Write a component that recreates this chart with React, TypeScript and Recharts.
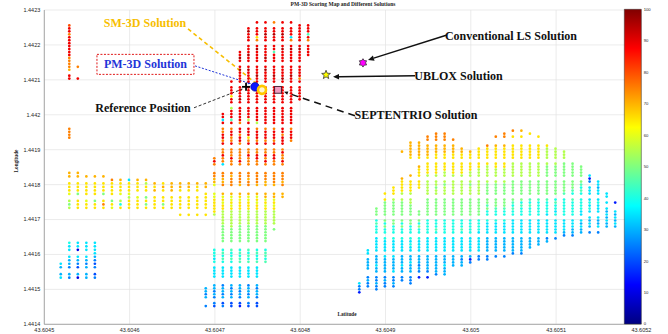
import React from "react";
import {
  ScatterChart,
  Scatter,
  XAxis,
  YAxis,
  CartesianGrid,
  ReferenceLine,
  ReferenceDot,
  BarChart,
  Bar,
} from "recharts";

const LAT_TICKS = [43.6045, 43.6046, 43.6047, 43.6048, 43.6049, 43.605, 43.6051, 43.6052];
const LON_TICKS = [1.4414, 1.4415, 1.4416, 1.4417, 1.4418, 1.4419, 1.442, 1.4421, 1.4422, 1.4423];
const SCORE_TICKS = [0, 10, 20, 30, 40, 50, 60, 70, 80, 90, 100];

// grid columns: lat = LAT0 + k * LAT_STEP
const LAT0 = 43.6045193;
const LAT_STEP = 0.00001;

// score of each cell code, blank = no candidate
const CODE_SCORE: Record<string, number> = {
  "0": 5, "1": 15, "2": 25, "3": 35, "4": 45, "5": 55, "6": 65, "7": 75, "8": 89, "9": 95,
  A: 0, B: 10, C: 20, D: 30, E: 40, F: 50, G: 60, H: 70, I: 80, J: 90,
};

// each column: [k, first row, cells]
const CENTRAL_LON0 = 1.4422643;
const CENTRAL_STEP = 0.00000846;
const CENTRAL_COLS: [number, number, string][] = [
  [1, 1, "I88788888887777H 88"],
  [1, 36, "7777"],
  [2, 15, "7   8"],
  [17, 90, "DD2D  2"],
  [18, 46, "787  77HHG  GG666665           EEE3E 3333  DD2D2 2C"],
  [19, 31, "8838 778878 778773  77HH7  HG6G6655555FFFFFF  E4E4E 3333  2DD2D C2"],
  [20, 20, "8 888688 588848 788778 777877  7H777  HGG6G6555555FFFFF  4EE4E 3333  D2D2D CC"],
  [21, 10, "8898 898888 888898 888887 887887 777787  7777H  H6G66655555FFFFFF  E4E44 3333  DD2D2 C1"],
  [22, 2, "89888 888988 898888 888888 888858 888678 778777  77H77  HGG66655555FFFFFF  4E4E4 3333  2DD2D 2C"],
  [23, 0, "8 88867 898888 888988 888888 888885 788878 778877  7777H  HG6G6655555FFFFFF  E4EE4 3333  D2DD2 CC"],
  [24, 0, "8 88988 888898 898888 888888 888888 788878 778787  777HH  HHG6G655555FFFFFF  E44E4"],
  [25, 0, "7 88988 884888 888988 888888 888888 788878 778877  7777H  HHG6G655555 F"],
  [26, 0, "8 88988 898888 888898 888888 888888 887888 787787  777H7  HH"],
  [27, 0, "8 88837 898888 888988 888888 888888 78887"],
  [28, 1, "888888 898888 888878 88888"],
  [29, 1, "888487 8888"],
];

const BAND_LON0 = 1.4418334;
const BAND_STEP = 0.00001;
const BAND_COLS: [number, number, string][] = [
  [1, 0, "HH 666G 5F5"],
  [2, 0, "HH 666F 666"],
  [3, 0, " H 6666 G66"],
  [4, 0, " H 6666 F66"],
  [5, 0, " H 666F 676"],
  [6, 0, "  76666 F6G"],
  [7, 0, "  H666G 5E6"],
  [8, 0, "  3666G5666"],
  [9, 0, "  H666 G666"],
  [10, 0, "  H566 F6F6"],
  [11, 0, "   H6H 6666"],
  [12, 0, "   6H6 66F6"],
  [13, 0, "   HHH 6666"],
  [14, 0, "   HH6 6666 6"],
  [15, 0, "   HH6 6666 6"],
  [16, 0, "   H66 6666 6"],
  [17, 0, "   HH 66666 6"],
];

const LOWER_LON0 = 1.4416334;
const LOWER_STEP = 0.00001;
const LOWER_COLS: [number, number, string][] = [
  [0, 0, "      3D D3"],
  [1, 0, "E33 3DD2 D2"],
  [2, 0, "33B 3D2C DB"],
  [3, 0, "333 3D2D DD"],
  [4, 0, "3333D2C2 C2"],
];

const EAST_LON0 = 1.4419629;
const EAST_STEP = 0.00000857;
const EAST_COLS: [number, number, string][] = [
  [35, 52, "3221"],
  [36, 41, "33 DDDD  2D22"],
  [37, 27, "FFF E4EEE 33333 DDD3DD 22D22"],
  [38, 22, "6 6FFFFF FEFEE E3333 3DDDDD 2D22"],
  [39, 20, "666 5FFFFF FFEEE E3333 3DDDD3 22D2"],
  [40, 8, "H        H66665 5FFFFF FEFEE E3333 DDD3DD 22"],
  [41, 5, "HHHHH6     H 66665 55FFFF FFEEE E3E33 DD3DDD 222"],
  [42, 5, "HHHHH6  H666 666       FF FEFEE E3333 DDD2D2 1"],
  [43, 3, "77 HHHH6 66665 55555 FFFFFF EEEEE 33333 DDDDD2 1"],
  [44, 2, "777 HHH66 66665 55F55 FFFFFF EEE4E 33333 DDDDDD2"],
  [45, 2, "777 HHH66 66655 5F555 FFFFFF EEEEE 33333 DDD3DDD"],
  [46, 4, "7 HHH66 66665 55555 FFFFFF EEEEE 33333 DDDD"],
  [47, 7, "HH66 66665 55555 FFFFFF EEE4E 33333 D2DD"],
  [48, 8, "H66 66655 5F555 FFFFFF EEEEE 33333 D12"],
  [49, 7, "6666 66555 55555 FFFFFF EEEE3 33333 22"],
  [50, 6, "76666 65555 5FFFF FF4FEE E3333 DDDDD 22"],
  [51, 3, "7  H6666 66555 5FFFF FFF4EE E3333 DDDDD 2"],
  [52, 2, "77  H6666 66555 5FFFF FFF4EE E3333 DDDDD 2"],
  [53, 1, "7 6  66666 55555 FFFFF F4E4EE 33333 DDDDD2"],
  [54, 1, "H 6  66666 55555 FFFFF FE4EEE 33333 DDDDD2"],
  [55, 2, "6   66666 55555 FFFFF 4E4EEE 33333 DDDD"],
  [56, 3, "6  66666 55555 FFFFF 4EEEEE 33333 DDD"],
  [57, 6, "65555 5FFFF FFFFF 4EEEE3 33333 2D"],
  [58, 7, "5555 5FFFF FFFFF E4EE3E 33333 2"],
  [59, 8, "555 FFFFF FFFF4 EEEEEE 3333D2"],
  [60, 12, "FFFFF FFF4E 4EEEEE 333DD2"],
  [61, 13, "FFFF F4E4E EEEE33 3D3DD"],
  [62, 16, "312 333 3E3E3 3D3D 2"],
  [63, 18, "33D33 3E333 3DD3 2"],
  [64, 22, "33 3 3D3D3DD"],
  [65, 25, "1  3D3D3D"],
];

const SOLUTION_KIND = ["plus", "circle", "ring", "square", "star", "hexagram"];
const SOLUTION_LAT = [43.6047365, 43.604747, 43.6047552, 43.604774, 43.6048303, 43.6048736];
const SOLUTION_LON = [1.44208, 1.44208, 1.4420714, 1.4420714, 1.4421143, 1.4421486];

const LABEL_TEXT = [
  "SM-3D Solution",
  "PM-3D Solution",
  "Reference Position",
  "SEPTENTRIO Solution",
  "UBLOX Solution",
  "Conventional LS Solution",
];
const LABEL_LAT = [43.6046181, 43.6046186, 43.6046157, 43.6049358, 43.6049856, 43.6050471];
const LABEL_LON = [1.4422629, 1.4421443, 1.4420186, 1.442, 1.4421114, 1.4422243];
const LABEL_COLOR = ["#f7be00", "#1f35d8", "#111", "#111", "#111", "#111"];

const LEAD_FROM_LAT = [43.6046685, 43.6046767, 43.6046755, 43.6048642, 43.6049346, 43.6049721];
const LEAD_FROM_LON = [1.4422457, 1.44214, 1.44202, 1.4419971, 1.4421114, 1.4422286];
const LEAD_TO_LAT = [43.6047505, 43.6047423, 43.6047329, 43.604781, 43.6048385, 43.6048795];
const LEAD_TO_LON = [1.4420857, 1.4420886, 1.4420743, 1.4420657, 1.4421086, 1.4421571];
const LEAD_COLOR = ["#f7be00", "#1f35d8", "#333", "#111", "#111", "#111"];
const LEAD_DASH = ["4 3", "2 1.6", "3 2", "7 5", "", ""];
const LEAD_WIDTH = [1.6, 1, 1, 1.5, 1.5, 1.5];
const LEAD_HEAD = [0, 3, 3, 4, 6, 6];

const TICK_STYLE = { fontSize: 5.5, fill: "#262626", fontFamily: "Liberation Sans, Arial, sans-serif" };
const SERIF = "Liberation Serif, Times New Roman, serif";

function jet(score: number) {
  const v = score / 100;
  const f = (o: number) => Math.round(255 * Math.max(0, Math.min(1, 1.5 - Math.abs(4 * v - o))));
  return `rgb(${f(3)},${f(2)},${f(1)})`;
}

function buildCells(lon0: number, step: number, cols: [number, number, string][]) {
  const out: any[] = [];
  cols.forEach(([k, r0, cells]) => {
    for (let i = 0; i < cells.length; i++) {
      const c = cells[i];
      if (c === " ") continue;
      const score = CODE_SCORE[c];
      out.push({ lat: LAT0 + k * LAT_STEP, lon: lon0 - (r0 + i) * step, score, color: jet(score) });
    }
  });
  return out;
}

const dots = [
  ...buildCells(CENTRAL_LON0, CENTRAL_STEP, CENTRAL_COLS),
  ...buildCells(BAND_LON0, BAND_STEP, BAND_COLS),
  ...buildCells(LOWER_LON0, LOWER_STEP, LOWER_COLS),
  ...buildCells(EAST_LON0, EAST_STEP, EAST_COLS),
];

const solutions = SOLUTION_KIND.map((kind, i) => ({ kind, lat: SOLUTION_LAT[i], lon: SOLUTION_LON[i] }));

function DotShape(props: any) {
  const { cx, cy, payload } = props;
  return <circle cx={cx} cy={cy} r={1.35} fill={payload.color} />;
}

function starPoints(cx: number, cy: number, n: number, ro: number, ri: number) {
  const pts: string[] = [];
  for (let i = 0; i < n * 2; i++) {
    const a = -Math.PI / 2 + (i * Math.PI) / n;
    const r = i % 2 === 0 ? ro : ri;
    pts.push(`${cx + r * Math.cos(a)},${cy + r * Math.sin(a)}`);
  }
  return pts.join(" ");
}

function SolutionMarker(props: any) {
  const { cx, cy, payload } = props;
  switch (payload.kind) {
    case "plus":
      return (
        <g stroke="#000" strokeWidth={1.8}>
          <line x1={cx - 4} y1={cy} x2={cx + 4} y2={cy} />
          <line x1={cx} y1={cy - 4} x2={cx} y2={cy + 4} />
        </g>
      );
    case "circle":
      return <circle cx={cx} cy={cy} r={4.3} fill="#0a18ff" stroke="#00008a" strokeWidth={0.6} />;
    case "ring":
      return <circle cx={cx} cy={cy} r={4} fill="#fff6d0" stroke="#ffc800" strokeWidth={2.6} />;
    case "square":
      return <rect x={cx - 3.4} y={cy - 3.4} width={6.8} height={6.8} fill="#f29ac0" stroke="#3a1a2a" strokeWidth={0.9} />;
    case "star":
      return <polygon points={starPoints(cx, cy, 5, 4.6, 2)} fill="#ffff00" stroke="#333" strokeWidth={0.8} />;
    default:
      return <polygon points={starPoints(cx, cy, 6, 4.2, 2.6)} fill="#ff00ff" stroke="#333" strokeWidth={0.8} />;
  }
}

function makeLabel(i: number) {
  return (p: any) => {
    const { cx, cy } = p;
    const text = (
      <text
        x={cx}
        y={cy}
        textAnchor="middle"
        dominantBaseline="central"
        fontFamily={SERIF}
        fontWeight="bold"
        fontSize={12}
        fill={LABEL_COLOR[i]}
      >
        {LABEL_TEXT[i]}
      </text>
    );
    if (i !== 1) return text;
    return (
      <g>
        <rect x={cx - 48.5} y={cy - 10} width={97} height={20} fill="#fff" stroke="#e01818" strokeWidth={1} strokeDasharray="2 1.5" />
        {text}
      </g>
    );
  };
}

function makeLeader(i: number) {
  return (p: any) => {
    const { x1, y1, x2, y2 } = p;
    const h = LEAD_HEAD[i];
    const dx = x2 - x1;
    const dy = y2 - y1;
    const len = Math.sqrt(dx * dx + dy * dy) || 1;
    const ux = dx / len;
    const uy = dy / len;
    const bx = x2 - ux * h;
    const by = y2 - uy * h;
    const w = h * 0.45;
    return (
      <g>
        <line
          x1={x1}
          y1={y1}
          x2={h ? bx : x2}
          y2={h ? by : y2}
          stroke={LEAD_COLOR[i]}
          strokeWidth={LEAD_WIDTH[i]}
          strokeDasharray={LEAD_DASH[i] || undefined}
        />
        {h > 0 && (
          <polygon
            points={`${x2},${y2} ${bx - uy * w},${by + ux * w} ${bx + uy * w},${by - ux * w}`}
            fill={LEAD_COLOR[i]}
          />
        )}
      </g>
    );
  };
}

const JET_STOPS = [0, 0.125, 0.375, 0.625, 0.875, 1];

export default function App() {
  return (
    <div style={{ position: "absolute", left: 0, top: 0, width: 668, height: 334, background: "#fff" }}>
      <ScatterChart width={668} height={334} margin={{ top: 10, right: 26.6, bottom: 0, left: 0 }}>
        <CartesianGrid stroke="#e2e2e2" strokeWidth={0.7} />
        <XAxis
          type="number"
          dataKey="lat"
          domain={[43.6045, 43.6052]}
          ticks={LAT_TICKS}
          interval={0}
          height={9.7}
          tickSize={2}
          tickMargin={2}
          tickLine={false}
          axisLine={{ stroke: "#8a8a8a", strokeWidth: 0.7 }}
          tick={TICK_STYLE}
          tickFormatter={(v: number) => String(v)}
        />
        <YAxis
          type="number"
          dataKey="lon"
          domain={[1.4414, 1.4423]}
          ticks={LON_TICKS}
          interval={0}
          width={44.3}
          tickSize={2}
          tickMargin={2}
          tickLine={false}
          axisLine={{ stroke: "#8a8a8a", strokeWidth: 0.7 }}
          tick={TICK_STYLE}
          tickFormatter={(v: number) => String(v)}
        />
        <Scatter data={dots} shape={DotShape} isAnimationActive={false} />
        {LABEL_TEXT.map((_, i) => (
          <ReferenceLine
            key={"lead" + i}
            segment={[
              { x: LEAD_FROM_LAT[i], y: LEAD_FROM_LON[i] },
              { x: LEAD_TO_LAT[i], y: LEAD_TO_LON[i] },
            ]}
            shape={makeLeader(i)}
          />
        ))}
        <Scatter data={solutions} shape={SolutionMarker} isAnimationActive={false} />
        {LABEL_TEXT.map((_, i) => (
          <ReferenceDot key={"lab" + i} x={LABEL_LAT[i]} y={LABEL_LON[i]} shape={makeLabel(i)} />
        ))}
      </ScatterChart>

      <div style={{ position: "absolute", left: 620, top: 0 }}>
        <BarChart width={48} height={334} data={[{ name: "score", v: 100 }]} margin={{ top: 9.3, right: 0, bottom: 10, left: 4.3 }} barCategoryGap={0}>
          <defs>
            <linearGradient id="jetBar" x1="0" y1="0" x2="0" y2="1">
              {JET_STOPS.map((o) => (
                <stop key={o} offset={o} stopColor={jet(100 - o * 100)} />
              ))}
            </linearGradient>
          </defs>
          <XAxis dataKey="name" hide />
          <YAxis
            orientation="right"
            domain={[0, 100]}
            ticks={SCORE_TICKS}
            interval={0}
            width={26.3}
            tickSize={1}
            tickMargin={1}
            tickLine={false}
            axisLine={false}
            tick={{ ...TICK_STYLE, fontSize: 4.2 }}
          />
          <Bar dataKey="v" fill="url(#jetBar)" stroke="#333" strokeWidth={0.5} isAnimationActive={false} />
        </BarChart>
      </div>

      <svg width={668} height={334} style={{ position: "absolute", left: 0, top: 0, pointerEvents: "none" }}>
        <text x={343} y={6.4} textAnchor="middle" fontFamily={SERIF} fontWeight="bold" fontSize={5.5} fill="#222">
          PM-3D Scoring Map and Different Solutions
        </text>
        <text x={18} y={161} textAnchor="middle" fontFamily={SERIF} fontWeight="bold" fontSize={5.2} fill="#222" transform="rotate(-90 18 161)">
          Longitude
        </text>
        <text x={347} y={316} textAnchor="middle" fontFamily={SERIF} fontWeight="bold" fontSize={5.2} fill="#222">
          Latitude
        </text>
      </svg>
    </div>
  );
}
